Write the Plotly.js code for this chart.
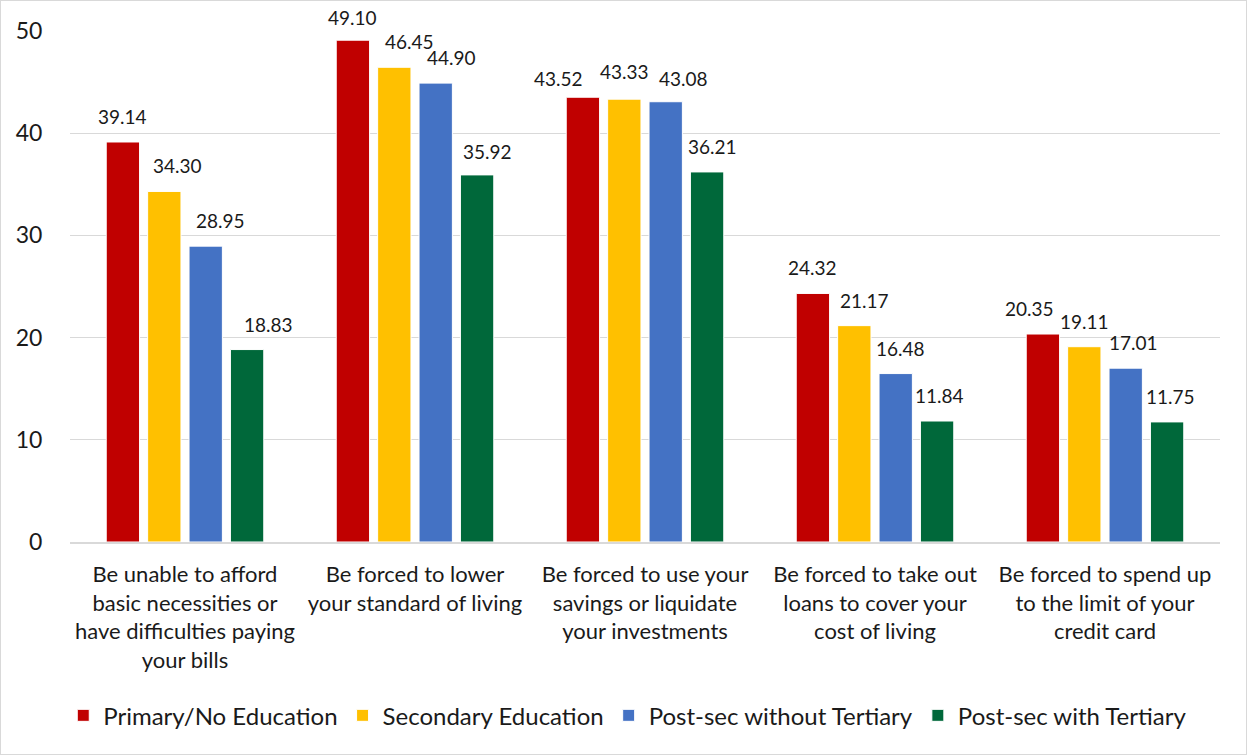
<!DOCTYPE html>
<html>
<head>
<meta charset="utf-8">
<script src="https://cdn.plot.ly/plotly-3.0.1.min.js"></script>
<style>
  html, body { margin: 0; padding: 0; background: #fff; }
  #wrap { position: relative; width: 1247px; height: 755px; }
  #chart { width: 1247px; height: 755px; }
  #frame { position: absolute; left: 0; top: 0; width: 1247px; height: 755px;
           box-sizing: border-box; border: 1px solid #d9d9d9; pointer-events: none; }
</style>
</head>
<body>
<div id="wrap">
  <div id="chart"></div>
  <div id="frame"></div>
</div>
<script>
// Share of respondents expecting each financial hardship, by education level
const categories = [
  "Be unable to afford<br>basic necessities or<br>have difficulties paying<br>your bills",
  "Be forced to lower<br>your standard of living",
  "Be forced to use your<br>savings or liquidate<br>your investments",
  "Be forced to take out<br>loans to cover your<br>cost of living",
  "Be forced to spend up<br>to the limit of your<br>credit card"
];
const seriesNames = [
  "Primary/No Education",
  "Secondary Education",
  "Post-sec without Tertiary",
  "Post-sec with Tertiary"
];
const primaryNoEducation   = [39.14, 49.10, 43.52, 24.32, 20.35];
const secondaryEducation   = [34.30, 46.45, 43.33, 21.17, 19.11];
const postSecNoTertiary    = [28.95, 44.90, 43.08, 16.48, 17.01];
const postSecWithTertiary  = [18.83, 35.92, 36.21, 11.84, 11.75];
const yTicks = [0, 10, 20, 30, 40, 50];

const seriesValues = [primaryNoEducation, secondaryEducation, postSecNoTertiary, postSecWithTertiary];
const colors = ["#C00000", "#FFC000", "#4472C4", "#00683A"];
const FONT = "Lato, 'Open Sans', sans-serif";
const TEXT = "#1a1a1a";

// nudges (px) for value labels so neighbouring labels do not collide
const labelShiftX = [
  [0, 0, -24, 0, -13],
  [13, 15, 0, 10, 0],
  [15, 16, 18, 5, 8],
  [21, 10, 5, 2, 3]
];
const labelShiftY = [
  [12, 9, 5, 12, 12],
  [12, 12, 14, 12, 12],
  [12, 12, 10, 12, 12],
  [12, 10, 12, 12, 12]
];

const slot = 0.18;      // distance between neighbouring bars in a group
const barWidth = 0.145; // bar width in category units
const xIdx = categories.map((_, i) => i);

const traces = seriesValues.map((vals, k) => ({
  type: "bar",
  name: seriesNames[k],
  x: xIdx,
  y: vals,
  width: barWidth,
  offset: (k - 1.5) * slot - barWidth / 2,
  marker: { color: colors[k], line: { color: "#ffffff", width: 1 } },
  hoverinfo: "y+name"
}));

// value labels above each bar
const annotations = [];
seriesValues.forEach((vals, k) => {
  vals.forEach((v, i) => {
    annotations.push({
      x: i + (k - 1.5) * slot,
      y: v,
      xref: "x", yref: "y",
      text: v.toFixed(2),
      showarrow: false,
      yanchor: "bottom",
      xshift: labelShiftX[k][i],
      yshift: labelShiftY[k][i],
      font: { family: FONT, size: 19, color: TEXT }
    });
  });
});

const layout = {
  width: 1247,
  height: 755,
  margin: { l: 70, r: 27, t: 31, b: 213 },
  paper_bgcolor: "#ffffff",
  plot_bgcolor: "#ffffff",
  barmode: "overlay",
  showlegend: true,
  font: { family: FONT, color: TEXT },
  xaxis: {
    range: [-0.5, 4.5],
    tickvals: xIdx,
    ticktext: categories,
    tickfont: { family: FONT, size: 22, color: TEXT },
    showgrid: false,
    zeroline: false,
    showline: true,
    linecolor: "#d9d9d9",
    linewidth: 1.5,
    ticks: "outside",
    ticklen: 12,
    tickcolor: "rgba(0,0,0,0)",
    fixedrange: true
  },
  yaxis: {
    range: [0, 50],
    tickvals: yTicks,
    ticktext: yTicks.map(String),
    tickfont: { family: FONT, size: 23, color: TEXT },
    showgrid: true,
    gridcolor: "#d9d9d9",
    gridwidth: 1.3,
    zeroline: false,
    showline: false,
    ticks: "outside",
    ticklen: 22,
    tickcolor: "rgba(0,0,0,0)",
    fixedrange: true
  },
  legend: {
    orientation: "h",
    x: 0.485, xanchor: "center",
    y: -0.34, yanchor: "middle",
    font: { family: FONT, size: 24, color: TEXT },
    itemwidth: 30,
    traceorder: "normal",
    bgcolor: "rgba(0,0,0,0)"
  },
  annotations: annotations
};

Plotly.newPlot("chart", traces, layout, { displayModeBar: false, staticPlot: true });
</script>
</body>
</html>
